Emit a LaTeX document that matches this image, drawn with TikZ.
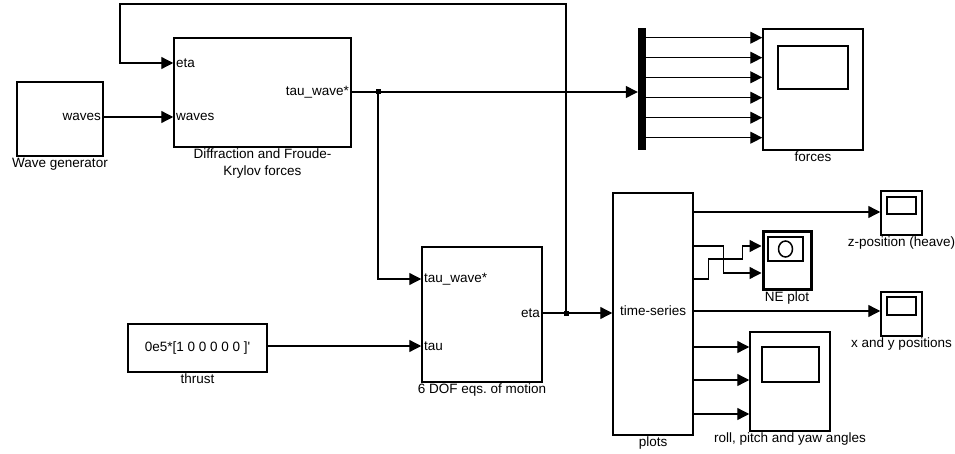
\documentclass[tikz,border=0pt]{standalone}
\usepackage{fontspec}
\setmainfont{Liberation Sans}
\usetikzlibrary{positioning,arrows.meta,calc}

\begin{document}
\begin{tikzpicture}[
    x=1pt, y=-1pt,
    block/.style={draw, line width=1.5pt, inner sep=0pt},
    caption/.style={font=\fontsize{13.5}{17}\selectfont, align=center, inner sep=1pt, anchor=north},
    port/.style={font=\fontsize{13.5}{15}\selectfont, inner sep=0pt},
    signal/.style={-{Triangle[length=12pt,width=12pt]}, line width=1.3pt},
    junction/.style={fill, minimum size=5pt, inner sep=0pt},
  ]
  \useasboundingbox (0,0) rectangle (955,454);

  % Wave generator
  \node[block, minimum width=86pt, minimum height=74pt] (wavegen) at (60,119) {};
  \node[caption] (wavegencap) at (wavegen.south) {Wave generator};
  \node[port, anchor=east] (wg-waves) at (101,117) {waves};

  % Diffraction and Froude-Krylov
  \node[block, minimum width=177pt, minimum height=109pt] (diff) at (262.5,92.5) {};
  \node[caption] (diffcap) at (diff.south) {Diffraction and Froude-\\Krylov forces};
  \node[port, anchor=west] (diff-eta) at (176,63) {eta};
  \node[port, anchor=west] (diff-waves) at (176,117) {waves};
  \node[port, anchor=east] (diff-tau) at (349,92) {tau\_wave*};

  % Mux and forces scope
  \node[fill, minimum width=8pt, minimum height=122pt, inner sep=0pt] (mux) at (642,89) {};
  \node[block, minimum width=100pt, minimum height=121pt] (forces) at (813,89.5) {};
  \node[block, minimum width=70pt, minimum height=43pt] (forcesscr) at (813,67.5) {};
  \node[caption] (forcescap) at (forces.south) {forces};

  % Thrust
  \node[block, port, minimum width=139pt, minimum height=48pt] (thrust) at (197.5,348) {0e5*[1 0 0 0 0 0 ]\textquotesingle};
  \node[caption] (thrustcap) at (thrust.south) {thrust};

  % 6 DOF
  \node[block, minimum width=120pt, minimum height=135pt] (dof) at (482,314.5) {};
  \node[caption] (dofcap) at (dof.south) {6 DOF eqs.\ of motion};
  \node[port, anchor=west] (dof-tauw) at (424,279) {tau\_wave*};
  \node[port, anchor=west] (dof-tau) at (424,346) {tau};
  \node[port, anchor=east] (dof-eta) at (540,313) {eta};

  % Plots
  \node[block, minimum width=80pt, minimum height=242pt] (plots) at (653,314) {};
  \node[port] (plots-in) at (653,311) {time-series};
  \node[caption] (plotscap) at (plots.south) {plots};

  % Scopes
  \node[block, minimum width=41pt, minimum height=44pt] (zscope) at (901.5,213) {};
  \node[block, minimum width=29pt, minimum height=17pt] (zscopescr) at (901.5,205.5) {};
  \node[caption] (zscopecap) at (zscope.south) {z-position (heave)};

  \node[draw, line width=3pt, inner sep=0pt, minimum width=48pt, minimum height=57pt] (ne) at (787,260.5) {};
  \node[block, minimum width=35pt, minimum height=24pt] (nescr) at (785.5,249) {};
  \draw[line width=1.5pt] (nescr.center) ellipse [x radius=7pt, y radius=8pt];
  \node[caption] (necap) at (ne.south) {NE plot};

  \node[block, minimum width=41pt, minimum height=44pt] (xyscope) at (901.5,314) {};
  \node[block, minimum width=29pt, minimum height=18pt] (xyscopescr) at (901.5,306) {};
  \node[caption] (xyscopecap) at (xyscope.south) {x and y positions};

  \node[block, minimum width=80pt, minimum height=99pt] (roll) at (790,381.5) {};
  \node[block, minimum width=57pt, minimum height=35pt] (rollscr) at (790.5,364.5) {};
  \node[caption] (rollcap) at (roll.south) {roll, pitch and yaw angles};

  % Signals
  \draw[signal] (wavegen.east |- wg-waves) -- (diff.west |- diff-waves);
  \node[junction] (j1) at (378,92) {};
  \draw[signal] (diff.east |- diff-tau) -- (mux.west |- diff-tau);
  \draw[signal] (j1.center) |- (dof.west |- dof-tauw);
  \foreach \y in {37.7,57.7,77.3,97.7,117.7,137.7}
    \draw[signal] (mux.east |- 0,\y) -- (forces.west |- 0,\y);
  \draw[signal] (thrust.east |- dof-tau) -- (dof.west |- dof-tau);

  \node[junction] (j2) at (566,313) {};
  \coordinate (loopR) at (566,4);
  \coordinate (loopL) at (120,4);
  \draw[signal] (dof.east |- dof-eta) -- (plots.west |- dof-eta);
  \draw[signal] (j2.center) -- (loopR) -- (loopL) |- (diff.west |- diff-eta);

  \foreach \n/\y in {1/212,2/246,3/279,4/311,5/347,6/380,7/414}
    \coordinate (out\n) at (plots.east |- 0,\y);
  \coordinate (ne-in1) at ($(ne.west)+(0,-14.5)$);
  \coordinate (ne-in2) at ($(ne.west)+(0,12.5)$);
  \draw[signal] (out1) -- (zscope.west |- out1);
  \draw[signal] (out2) -- ++(30,0) |- (ne-in2);
  \draw[signal] (out3) -- ++(15,0) -- ++(0,-20) -- ++(34,0) |- (ne-in1);
  \draw[signal] (out4) -- (xyscope.west |- out4);
  \draw[signal] (out5) -- (roll.west |- out5);
  \draw[signal] (out6) -- (roll.west |- out6);
  \draw[signal] (out7) -- (roll.west |- out7);
\end{tikzpicture}
\end{document}
